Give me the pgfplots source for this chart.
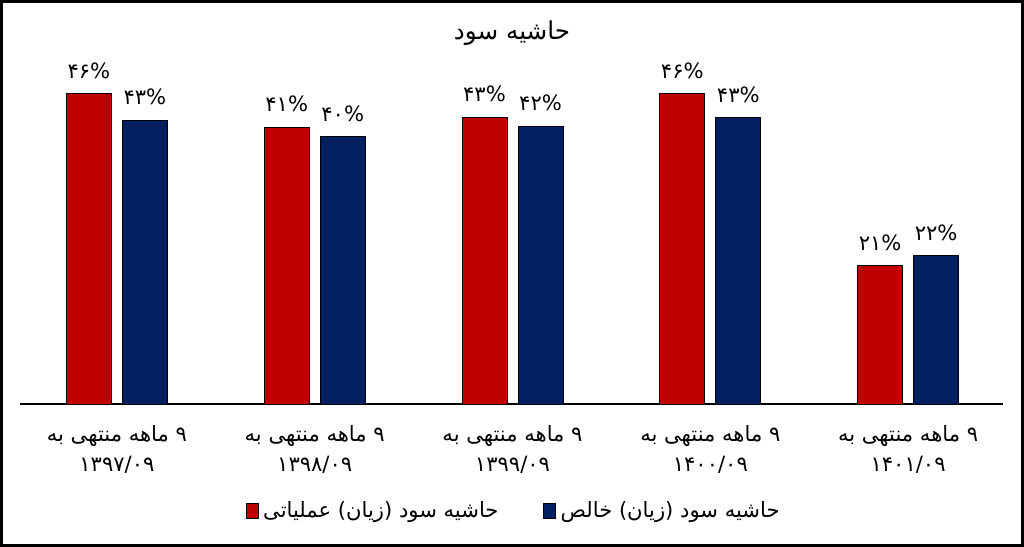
\documentclass[border=0pt]{standalone}
\usepackage{fontspec}
\usepackage{pgfplots}
\usepackage{pgfplotstable}
\pgfplotsset{compat=1.18}
\TeXXeTstate=1
\newfontfamily\arabicfont[Script=Arabic]{DejaVu Sans}
\definecolor{barred}{HTML}{C00000}
\definecolor{barblue}{HTML}{002060}

\pgfplotstableread{
x op opl net netl
0 46.3 ۴۶ 42.3 ۴۳
1 41.3 ۴۱ 39.9 ۴۰
2 42.8 ۴۳ 41.4 ۴۲
3 46.3 ۴۶ 42.7 ۴۳
4 20.6 ۲۱ 22.1 ۲۲
}\data

\begin{document}
\begin{tikzpicture}[x=0.015cm,y=0.015cm]
\path[use as bounding box] (0,0) rectangle (1024,547);
\draw[line width=0.045cm, black] (1.5,1.5) rectangle (1022.5,545.5);
\node[font=\arabicfont\fontsize{10.5}{12}\selectfont] at (512,514) {\beginR حاشیه سود\endR};
\begin{axis}[
  at={(0.3cm,2.145cm)}, anchor=south west,
  scale only axis, width=14.745cm, height=5.025cm,
  xmin=-0.49, xmax=4.48, ymin=0, ymax=50,
  axis x line*=bottom, axis y line=none,
  x axis line style={line width=0.8pt, black},
  ytick=\empty,
  xtick={0,1,2,3,4},
  major tick length=0pt,
  xticklabels={
    {\beginR ۹ ماهه منتهی به\endR\\۱۳۹۷/۰۹},
    {\beginR ۹ ماهه منتهی به\endR\\۱۳۹۸/۰۹},
    {\beginR ۹ ماهه منتهی به\endR\\۱۳۹۹/۰۹},
    {\beginR ۹ ماهه منتهی به\endR\\۱۴۰۰/۰۹},
    {\beginR ۹ ماهه منتهی به\endR\\۱۴۰۱/۰۹}},
  xticklabel style={align=center, font=\arabicfont\fontsize{9}{12.75}\selectfont, yshift=-5.5pt},
  ybar, bar width=0.2276,
  clip=false,
  nodes near coords={\pgfplotspointmeta\%},
  point meta=explicit symbolic,
  every node near coord/.append style={font=\arabicfont\fontsize{9}{11}\selectfont, yshift=3pt, black},
  legend style={at={(0.5036,-0.319)}, anchor=center, draw=none, legend columns=2,
    font=\arabicfont\fontsize{9}{11}\selectfont,
    /tikz/every even column/.append style={column sep=0.6cm}},
  legend image code/.code={\draw[#1, draw=black, line width=0.3pt] (0cm,-0.11cm) rectangle (0.18cm,0.11cm);},
]
\addplot[fill=barred, draw=black, line width=0.4pt, bar shift=-0.1416] table[x=x, y=op, meta=opl] {\data};
\addlegendentry{\beginR حاشیه سود (زیان) عملیاتی\endR}
\addplot[fill=barblue, draw=black, line width=0.4pt, bar shift=0.1416] table[x=x, y=net, meta=netl] {\data};
\addlegendentry{\beginR حاشیه سود (زیان) خالص\endR}
\end{axis}
\end{tikzpicture}
\end{document}
